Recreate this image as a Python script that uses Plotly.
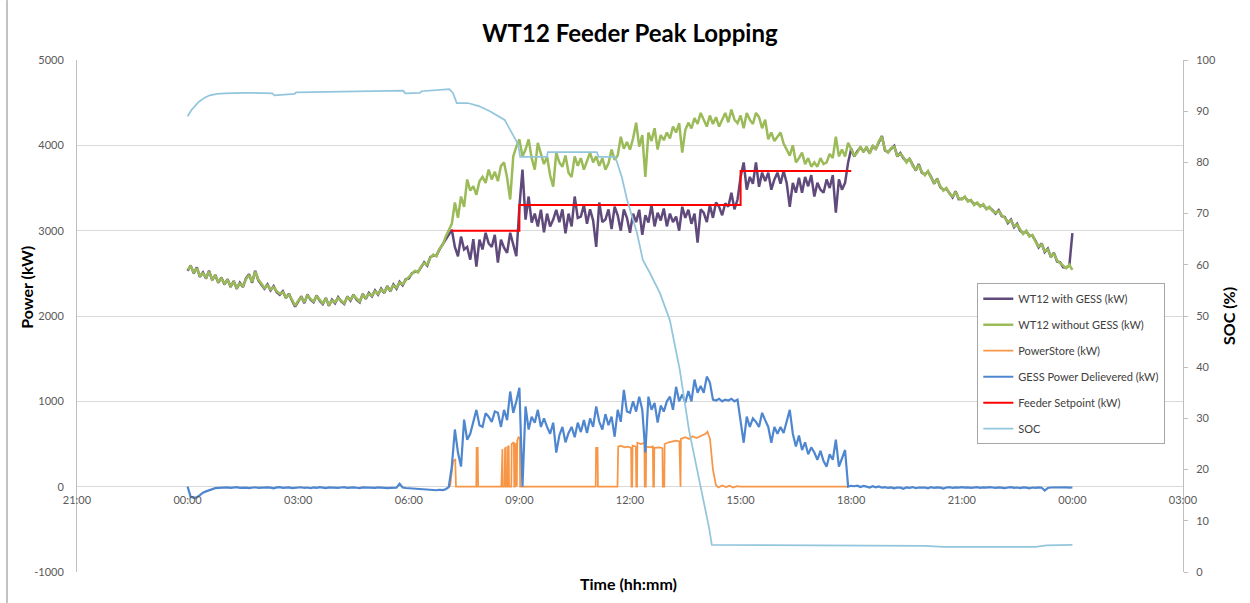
import pandas as pd
import plotly.graph_objects as go

BASE = pd.Timestamp("2016-06-01 00:00")

# 5-minute samples, 00:00 ... 24:00 (289 values)
wt12_without_gess_kw = [
    2540, 2580, 2510, 2560, 2470, 2500, 2450, 2520, 2430, 2470, 2400, 2440,
    2380, 2420, 2350, 2400, 2330, 2380, 2350, 2430, 2480, 2400, 2520, 2430,
    2380, 2330, 2360, 2310, 2340, 2290, 2260, 2280, 2220, 2250, 2190, 2120,
    2180, 2220, 2160, 2240, 2200, 2170, 2230, 2190, 2150, 2200, 2130, 2180,
    2160, 2210, 2180, 2150, 2220, 2190, 2240, 2200, 2170, 2250, 2210, 2260,
    2240, 2290, 2260, 2310, 2280, 2340, 2300, 2360, 2330, 2390, 2370, 2420,
    2450, 2490, 2530, 2510, 2580, 2620, 2600, 2680, 2720, 2700, 2790, 2830,
    2930, 3000, 3080, 3330, 3150, 3400, 3280, 3600, 3470, 3520, 3420, 3580,
    3630, 3560, 3715, 3600, 3690, 3580, 3760, 3800, 3620, 3365, 3870, 3985,
    4070, 3870, 3950, 4070, 3850, 3715, 4030, 3900, 3780, 3870, 3650, 3515,
    3915, 3800, 3750, 3880, 3680, 3630, 3870, 3760, 3850, 3715, 3820, 3915,
    3800, 3870, 3760, 3850, 3715, 3790, 3950, 3830, 3880, 4100, 3960, 4040,
    3950, 4080, 4265, 3985, 4120, 3630, 4150, 4050, 4200, 3950, 4120, 4060,
    4150, 4080, 4220, 4150, 4260, 3915, 4180, 4265, 4200, 4320, 4250, 4380,
    4300, 4220, 4350, 4250, 4330, 4220, 4300, 4380, 4270, 4420, 4300, 4260,
    4350, 4200, 4380, 4300, 4250, 4380, 4330, 4200, 4300, 4070, 4150, 4050,
    4100, 4150, 4020, 3950, 3880, 4000, 3800, 3850, 3915, 3780, 3850, 3750,
    3800, 3750, 3850, 3780, 3800, 3900, 3850, 4100, 3870, 3950, 3870, 4030,
    3950, 3880, 3915, 3985, 3920, 3985, 3900, 4000, 3950, 4050, 4100, 3950,
    3915, 3970, 3985, 3880, 3900, 3860, 3800, 3850, 3760, 3715, 3770, 3690,
    3650, 3700, 3620, 3560, 3600, 3520, 3470, 3500, 3430, 3400, 3450, 3380,
    3365, 3400, 3340, 3360, 3300, 3330, 3280, 3310, 3250, 3280, 3230, 3210,
    3230, 3180, 3150, 3100, 3120, 3050, 3070, 3010, 2960, 3000, 2930, 2950,
    2870, 2815, 2840, 2760, 2780, 2700, 2730, 2650, 2620, 2580, 2560, 2600,
    2540,
]

wt12_with_gess_kw = [
    2530, 2590, 2500, 2570, 2460, 2510, 2440, 2530, 2420, 2480, 2390, 2450,
    2370, 2430, 2340, 2410, 2320, 2390, 2340, 2440, 2490, 2390, 2530, 2420,
    2370, 2320, 2370, 2300, 2350, 2280, 2250, 2290, 2210, 2260, 2180, 2110,
    2170, 2230, 2150, 2250, 2190, 2160, 2240, 2180, 2140, 2210, 2120, 2190,
    2150, 2220, 2170, 2140, 2230, 2180, 2250, 2190, 2160, 2260, 2200, 2270,
    2230, 2300, 2250, 2320, 2270, 2350, 2290, 2370, 2320, 2400, 2360, 2430,
    2440, 2500, 2520, 2520, 2570, 2630, 2590, 2690, 2710, 2710, 2780, 2840,
    2890, 2960, 3010, 2810, 2700, 2930, 2780, 2810, 2660, 2900, 2580, 2895,
    2780, 2975, 2850, 2810, 2950, 2625, 2895, 2800, 2740, 2975, 2850, 2700,
    3280, 3715, 3130, 3400, 3095, 3200, 3050, 3245, 2980, 3200, 3050, 3130,
    3245, 3100, 3250, 2970, 3200, 3050, 3400, 3150, 3165, 3300, 3080, 3250,
    3120, 2810, 3330, 3100, 3130, 3250, 3020, 3280, 3180, 3000, 3250, 3150,
    2975, 3200, 3100, 3245, 2950, 3180, 3095, 3300, 3050, 3210, 3120, 3260,
    3050, 3200, 3100, 3165, 3000, 3280, 3150, 3245, 3080, 3200, 2860, 3250,
    3210, 3100, 3300, 3150, 3330, 3280, 3180, 3320, 3280, 3445, 3250, 3365,
    3630, 3800, 3480, 3630, 3550, 3800, 3515, 3680, 3580, 3680, 3480, 3600,
    3680, 3550, 3700, 3560, 3280, 3560, 3445, 3620, 3445, 3630, 3520, 3650,
    3400, 3560, 3480, 3445, 3600, 3500, 3650, 3210, 3600, 3480, 3560, 3800,
    3960, 3870, 3930, 3975, 3930, 3970, 3910, 3990, 3960, 4040, 4110, 3940,
    3920, 3960, 3995, 3870, 3910, 3850, 3810, 3840, 3770, 3705, 3780, 3680,
    3660, 3690, 3630, 3550, 3610, 3510, 3480, 3490, 3440, 3390, 3460, 3370,
    3375, 3390, 3350, 3350, 3310, 3320, 3290, 3300, 3260, 3270, 3240, 3200,
    3240, 3170, 3160, 3090, 3130, 3040, 3080, 3000, 2970, 2990, 2940, 2940,
    2880, 2805, 2850, 2750, 2790, 2690, 2740, 2640, 2630, 2570, 2570, 2590,
    2970,
]

gess_delivered_kw = [
    0, -120, -130, -125, -100, -70, -55, -40, -28, -18, -15, -12,
    -12, -8, -15, -10, -6, -14, -9, -12, -18, -10, -7, -13,
    -10, -15, -8, -12, -20, -9, -6, -14, -11, -8, -16, -10,
    -12, -7, -15, -10, -18, -9, -13, -6, -11, -16, -8, -12,
    -9, -14, -10, -6, -15, -11, -8, -13, -17, -9, -12, -7,
    -11, -15, -8, -12, -10, -18, -14, -9, -12, 35, -10, -16,
    -18, -22, -25, -30, -28, -35, -38, -33, -40, -42, -36, -40,
    -30, -5, 235, 670, 400, 235, 785, 550, 620, 760, 900, 720,
    700, 860, 820, 760, 880, 865, 700, 900, 780, 1115, 865, 1000,
    1160, 0, 940, 670, 820, 750, 900, 700, 800, 700, 620, 750,
    400, 600, 700, 520, 630, 700, 580, 750, 640, 780, 630, 800,
    700, 940, 760, 670, 850, 720, 820, 585, 900, 760, 1135, 880,
    865, 1000, 880, 1055, 900, 400, 1055, 900, 980, 750, 950, 880,
    1000, 1055, 900, 1170, 1000, 1080, 985, 1120, 1000, 1255, 1100, 1180,
    1100, 1290, 1220, 1020, 1010, 1030, 1000, 1020, 1010, 1030, 1000, 1020,
    785, 515, 820, 700, 800, 760, 700, 865, 780, 700, 515, 700,
    620, 700, 630, 780, 900, 620, 470, 600, 430, 520, 380, 460,
    400, 315, 420, 300, 235, 380, 315, 550, 235, 330, 430, 0,
    10, 5, 12, -5, 8, 0, -10, 5, -8, 2, -12, -5,
    -15, -8, -20, -10, -12, -25, -8, -15, -5, -18, -10, -12,
    -10, -20, -5, -15, -8, -12, -22, -10, -6, -15, -8, -12,
    -5, -12, -8, -15, -10, -6, -14, -8, -12, -5, -10, -15,
    -8, -12, -18, -10, -6, -14, -10, -16, -8, -12, -20, -10,
    -15, -8, -12, -45, -15, -10, -8, -12, -6, -10, -8, -12,
    -10,
]

powerstore_hours = [
    7.12, 7.20, 7.26, 7.28,
    7.83, 7.84, 7.87, 7.88,
    8.51, 8.52, 8.54, 8.55,
    8.60, 8.61, 8.63, 8.64,
    8.68, 8.69, 8.71, 8.72,
    8.78, 8.79, 8.85, 8.86, 8.88, 8.89, 8.91,
    8.93, 8.94, 8.98, 9.01, 9.02,
    11.07, 11.08, 11.12, 11.13,
    11.66, 11.68, 11.75, 11.85, 11.95, 12.03, 12.04, 12.06,
    12.07, 12.16, 12.17, 12.19,
    12.20, 12.30, 12.39, 12.40, 12.43,
    12.44, 12.55, 12.62, 12.63, 12.65,
    12.66, 12.80, 12.88, 12.89, 12.93,
    12.94, 13.05, 13.15, 13.25, 13.34, 13.35, 13.37,
    13.38, 13.50, 13.60, 13.70, 13.80, 13.95, 14.05, 14.10, 14.17, 14.25, 14.33,
    14.40, 14.50, 14.60, 14.70, 14.80, 14.90, 15.00, 17.92,
]
powerstore_kw = [
    0, 300, 315, 0,
    0, 455, 455, 0,
    0, 430, 440, 0,
    0, 450, 455, 0,
    0, 470, 480, 0,
    0, 500, 520, 0, 0, 510, 0,
    0, 540, 585, 560, 0,
    0, 455, 455, 0,
    0, 470, 480, 460, 470, 455, 0, 0,
    480, 470, 0, 0,
    515, 500, 515, 0, 0,
    470, 460, 470, 0, 0,
    455, 460, 450, 0, 0,
    500, 520, 530, 540, 530, 0, 0,
    560, 580, 560, 590, 570, 600, 620, 645, 560, 200, 20,
    -10, 15, -5, 10, -10, 5, 0, 0,
]

setpoint_hours = [7.15, 9.0, 15.0, 18.0]
setpoint_kw = [3000, 3300, 3700, 3700]

soc_hours = [
    0.0, 0.1, 0.2, 0.3, 0.45, 0.6, 0.8, 1.0, 1.5, 2.0, 2.3, 2.35, 2.6, 2.9, 2.95,
    4.0, 5.0, 5.85, 5.9, 6.3, 6.35, 6.9, 7.1, 7.2, 7.3, 7.6, 7.9, 8.2, 8.6, 8.9,
    8.97, 9.02, 9.75, 9.77, 11.1, 11.15, 11.6, 11.78, 11.92, 12.19, 12.35, 12.54,
    12.81, 13.08, 13.35, 13.6, 13.87, 14.14, 14.22, 16.0, 18.0, 20.0, 20.5, 23.0,
    23.3, 24.0,
]
soc_pct = [
    89.0, 90.2, 91.0, 91.8, 92.6, 93.1, 93.4, 93.5, 93.6, 93.5, 93.5, 93.1, 93.3, 93.4, 93.7,
    93.8, 93.9, 94.0, 93.5, 93.6, 93.9, 94.3, 94.3, 93.5, 91.6, 91.6, 91.0, 90.0, 88.3, 84.4,
    83.4, 81.1, 81.1, 82.0, 82.0, 81.1, 81.1, 77.1, 72.7, 66.2, 60.9, 58.4,
    54.5, 49.2, 39.5, 27.7, 18.6, 8.8, 5.3, 5.2, 5.2, 5.1, 4.9, 4.9,
    5.2, 5.3,
]

power_tick_values = [-1000, 0, 1000, 2000, 3000, 4000, 5000]
power_tick_labels = ["-1000", "0", "1000", "2000", "3000", "4000", "5000"]

x_ticks_start = BASE - pd.Timedelta(hours=3)
x_range_end = BASE + pd.Timedelta(hours=27)


def at_hours(hours):
    return [BASE + pd.Timedelta(hours=h) for h in hours]


grid_times = list(pd.date_range(BASE, periods=len(wt12_without_gess_kw), freq="5min"))

FONT = "Lato, 'Open Sans', sans-serif"

fig = go.Figure()
fig.add_trace(go.Scatter(x=grid_times, y=wt12_with_gess_kw, name="WT12 with GESS (kW)",
                         mode="lines", line=dict(color="#604a7b", width=2.5), legendgroup="a"))
fig.add_trace(go.Scatter(x=grid_times, y=wt12_without_gess_kw, name="WT12 without GESS (kW)",
                         mode="lines", line=dict(color="#9bbb59", width=2.5), legendgroup="b"))
fig.add_trace(go.Scatter(x=at_hours(powerstore_hours), y=powerstore_kw, name="PowerStore (kW)",
                         mode="lines", line=dict(color="#f79646", width=1.75), legendgroup="c"))
fig.add_trace(go.Scatter(x=grid_times, y=gess_delivered_kw, name="GESS Power Delievered (kW)",
                         mode="lines", line=dict(color="#4f86d0", width=2.2), legendgroup="d"))
fig.add_trace(go.Scatter(x=at_hours(setpoint_hours), y=setpoint_kw, name="Feeder Setpoint (kW)",
                         mode="lines", line=dict(color="#ff0000", width=2, shape="hv"), legendgroup="e"))
fig.add_trace(go.Scatter(x=at_hours(soc_hours), y=soc_pct, name="SOC", yaxis="y2",
                         mode="lines", line=dict(color="#93c6dc", width=1.75), legendgroup="f"))

tickfont = dict(family=FONT, size=11, color="#595959")

fig.update_layout(
    width=1250, height=603, autosize=False,
    margin=dict(l=77, r=67, t=60, b=31),
    paper_bgcolor="white", plot_bgcolor="white",
    font=dict(family=FONT, color="#404040"),
    title=dict(text="<b>WT12 Feeder Peak Lopping</b>", x=0.5, xref="paper", xanchor="center",
               y=0.945, yref="container", yanchor="middle",
               font=dict(family=FONT, size=24, color="#000000")),
    xaxis=dict(type="date", range=[x_ticks_start, x_range_end], tick0=x_ticks_start,
               dtick=3 * 3600 * 1000, tickformat="%H:%M", showgrid=False, zeroline=False,
               showline=False, ticks="", anchor="free", position=1000 / 6000,
               tickfont=tickfont, ticklabelstandoff=5),
    yaxis=dict(range=[-1000, 5000], tickmode="array", tickvals=power_tick_values,
               ticktext=power_tick_labels, showgrid=True, gridcolor="#d9d9d9",
               gridwidth=1, zeroline=False, showline=True, linecolor="#bfbfbf",
               ticks="", tickfont=tickfont, ticklabelstandoff=10),
    yaxis2=dict(range=[0, 100], dtick=10, overlaying="y", side="right", showgrid=False,
                zeroline=False, showline=True, linecolor="#bfbfbf", ticks="outside",
                ticklen=4, tickcolor="#bfbfbf", tickfont=tickfont, ticklabelstandoff=6),
    legend=dict(x=0.814, y=0.564, xanchor="left", yanchor="top", bgcolor="white",
                bordercolor="#a6a6a6", borderwidth=1, font=dict(family=FONT, size=11, color="#404040"),
                itemwidth=30, tracegroupgap=7),
    showlegend=True,
)

fig.add_annotation(text="<b>Power (kW)</b>", xref="paper", yref="paper", x=-0.0452, y=0.555,
                   textangle=-90, showarrow=False, font=dict(family=FONT, size=16, color="#000000"),
                   xanchor="center", yanchor="middle")
fig.add_annotation(text="<b>SOC (%)</b>", xref="paper", yref="paper", x=1.0407, y=0.5,
                   textangle=-90, showarrow=False, font=dict(family=FONT, size=16, color="#000000"),
                   xanchor="center", yanchor="middle")
fig.add_annotation(text="<b>Time (hh:mm)</b>", xref="paper", yref="paper", x=0.499, y=-0.0234,
                   showarrow=False, font=dict(family=FONT, size=16, color="#000000"),
                   xanchor="center", yanchor="middle")

fig.add_shape(type="line", xref="paper", yref="paper", x0=-0.0633, x1=-0.0633, y0=-0.0605, y1=1.117,
              line=dict(color="#868686", width=1))

fig.write_html("out.html", config={"displayModeBar": False},
               post_script="document.body.style.margin='0';")
